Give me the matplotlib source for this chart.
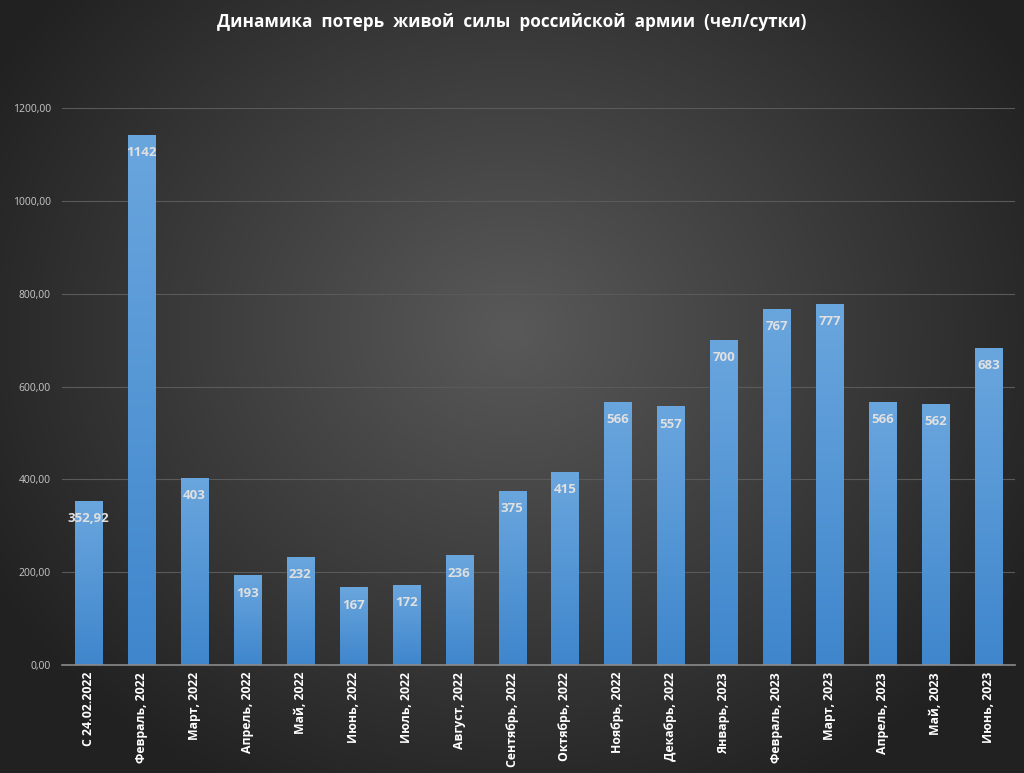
import matplotlib
matplotlib.use("Agg")
import matplotlib.pyplot as plt
import numpy as np
from matplotlib.ticker import FuncFormatter
from matplotlib.colors import LinearSegmentedColormap

categories = ["С 24.02.2022", "Февраль, 2022", "Март, 2022", "Апрель, 2022", "Май, 2022",
              "Июнь, 2022", "Июль, 2022", "Август, 2022", "Сентябрь, 2022", "Октябрь, 2022",
              "Ноябрь, 2022", "Декабрь, 2022", "Январь, 2023", "Февраль, 2023", "Март, 2023",
              "Апрель, 2023", "Май, 2023", "Июнь, 2023"]
values = [352.92, 1142, 403, 193, 232, 167, 172, 236, 375, 415, 566, 557, 700, 767, 777, 566, 562, 683]
value_labels = ["352,92", "1142", "403", "193", "232", "167", "172", "236", "375", "415",
                "566", "557", "700", "767", "777", "566", "562", "683"]
title = "Динамика  потерь  живой  силы  российской  армии  (чел/сутки)"

plt.rcParams['font.family'] = ['Open Sans', 'DejaVu Sans']

fig = plt.figure(figsize=(10.24, 7.73), dpi=100)

# radial gradient background
bg = fig.add_axes([0, 0, 1, 1], zorder=-10)
yy, xx = np.mgrid[0:773, 0:1024]
r = np.sqrt(((xx - 512) / 600.0) ** 2 + ((yy - 330) / 520.0) ** 2)
val = np.clip(0.35 - 0.22 * r, 0.13, 0.36)
img = np.dstack([val, val, val])
bg.imshow(img, aspect='auto', extent=[0, 1, 0, 1], origin='upper')
bg.axis('off')

ax = fig.add_axes([62 / 1024, 1 - 665 / 773, (1015 - 62) / 1024, (665 - 108) / 773])
ax.patch.set_alpha(0)
x = np.arange(len(categories))
bars = ax.bar(x, values, width=0.51, color='#5b9bd5', zorder=3)

grad = np.linspace(0, 1, 256).reshape(-1, 1)
cmap = LinearSegmentedColormap.from_list('b', ['#3f86cc', '#6aa6de'])
for b in bars:
    xb, w, h = b.get_x(), b.get_width(), b.get_height()
    im = ax.imshow(grad, cmap=cmap, aspect='auto', extent=[xb, xb + w, 0, h],
                   origin='lower', zorder=3.5)
    im.set_clip_path(b)

ax.set_xlim(-0.5, len(categories) - 0.5)
ax.set_ylim(0, 1200)
ax.set_yticks(np.arange(0, 1201, 200))
ax.yaxis.set_major_formatter(FuncFormatter(lambda v, p: f"{v:.2f}".replace('.', ',')))
ax.tick_params(axis='y', colors='#c8c8c8', labelsize=7.5, length=0, pad=8)
ax.set_xticks(x)
ax.set_xticklabels(categories, rotation=90, fontsize=8.8, fontweight='bold', color='white')
ax.tick_params(axis='x', length=0, pad=5)
ax.grid(axis='y', color='#5a5a5a', linewidth=0.8, zorder=0)
for s in ['top', 'right', 'left']:
    ax.spines[s].set_visible(False)
ax.spines['bottom'].set_color('#8a8a8a')
ax.spines['bottom'].set_linewidth(1.2)
ax.spines['bottom'].set_zorder(5)

for xi, v, lab in zip(x, values, value_labels):
    ax.annotate(lab, (xi, v), xytext=(0, -8), textcoords='offset points',
                ha='center', va='top', fontsize=9.5, fontweight='bold', color='#e0e0e0', zorder=6)

fig.text(0.5, 1 - 22 / 773, title, ha='center', va='center', fontsize=12.3,
         fontweight='bold', color='white')

fig.savefig('out.png', dpi=100)
